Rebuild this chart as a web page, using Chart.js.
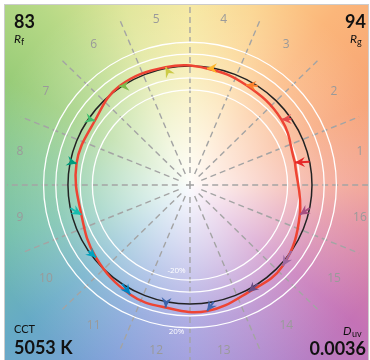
<!DOCTYPE html>
<html>
<head>
<meta charset="utf-8">
<script src="https://cdn.jsdelivr.net/npm/chart.js@4.4.1/dist/chart.umd.min.js"></script>
<style>
  body { margin: 0; background: #fff; }
  canvas { display: block; }
</style>
</head>
<body>
<canvas id="myChart" width="370" height="360"></canvas>
<script>
// hue bins 1..16, test vertex per bin (reference circle = radius 1)
const binLabels = ['1','2','3','4','5','6','7','8','9','10','11','12','13','14','15','16'];
const testX = [0.86, 0.75, 0.46, 0.14, -0.20, -0.58, -0.78, -0.93, -0.89, -0.77, -0.49, -0.20, 0.14, 0.48, 0.76, 0.90];
const testY = [0.19, 0.55, 0.84, 0.98, 0.99, 0.83, 0.54, 0.18, -0.25, -0.61, -0.92, -1.03, -1.06, -0.90, -0.68, -0.25];
const binColors = ['#e62828','#e74b4b','#fb812e','#ffb529','#cbca46','#7eb94c','#41c06d','#009c7c',
                   '#16bcb0','#00a4bf','#0085c3','#3b62aa','#4568ae','#6a4e85','#9d69a1','#a74f81'];
const ringRadii = [0.8, 0.9, 1.1, 1.2];
const ringLabels = ['-20%', '20%'];
const Rf = '83';
const Rg = '94';
const CCT = '5053 K';
const Duv = '0.0036';

function binAngle(i) { return (i + 0.5) * Math.PI / 8; }

// red test curve, closed
var curve = testX.map(function(x, i) { return {x: x, y: testY[i]}; });
curve.push(curve[0]);

var datasets = [];
binLabels.forEach(function(lbl, i) {
  var a = binAngle(i);
  datasets.push({
    label: 'bin ' + lbl,
    data: [{x: Math.cos(a), y: Math.sin(a)}, {x: testX[i], y: testY[i]}],
    showLine: true,
    borderColor: binColors[i],
    borderWidth: 2,
    pointRadius: 0,
    order: 0,
    isArrow: true
  });
});
datasets.push({
  label: 'test',
  data: curve,
  showLine: true,
  borderColor: '#ee4433',
  borderWidth: 2.5,
  tension: 0.4,
  pointRadius: 0,
  order: 1
});

function ellipse(ctx, xs, ys, r) {
  var cx = xs.getPixelForValue(0), cy = ys.getPixelForValue(0);
  var rx = xs.getPixelForValue(r) - cx, ry = cy - ys.getPixelForValue(r);
  ctx.beginPath();
  ctx.ellipse(cx, cy, rx, ry, 0, 0, Math.PI * 2);
}

const backdrop = {
  id: 'backdrop',
  beforeDatasetsDraw(chart) {
    var ctx = chart.ctx, area = chart.chartArea;
    var xs = chart.scales.x, ys = chart.scales.y;
    var cx = xs.getPixelForValue(0), cy = ys.getPixelForValue(0);
    ctx.save();
    ctx.beginPath();
    ctx.rect(area.left, area.top, area.right - area.left, area.bottom - area.top);
    ctx.clip();

    // hue background
    var stops = [[0,'#f2a090'],[25,'#f7a274'],[50,'#fbb67a'],[70,'#fbd48e'],[90,'#f5e79c'],
                 [110,'#dfe596'],[130,'#b7d986'],[150,'#98cc78'],[170,'#82c690'],[195,'#70bea8'],
                 [220,'#66aac6'],[245,'#7e9ed8'],[270,'#9c98dc'],[295,'#b086cc'],[320,'#c472b6'],
                 [345,'#e08aa0'],[360,'#f2a090']];
    var g = ctx.createConicGradient(0, cx, cy);
    stops.slice().reverse().forEach(function(s) {
      g.addColorStop((360 - s[0]) / 360, s[1]);
    });
    ctx.fillStyle = g;
    ctx.fillRect(area.left, area.top, area.right - area.left, area.bottom - area.top);
    var w = ctx.createRadialGradient(cx, cy, 0, cx, cy, 210);
    w.addColorStop(0, 'rgba(255,255,255,0.97)');
    w.addColorStop(0.3, 'rgba(255,255,255,0.62)');
    w.addColorStop(0.65, 'rgba(255,255,255,0.2)');
    w.addColorStop(1, 'rgba(255,255,255,0)');
    ctx.fillStyle = w;
    ctx.fillRect(area.left, area.top, area.right - area.left, area.bottom - area.top);

    // radial dashed lines at bin edges
    ctx.strokeStyle = '#a4a4a4';
    ctx.lineWidth = 1.4;
    ctx.setLineDash([6, 4]);
    for (var k = 0; k < 16; k++) {
      var a = k * Math.PI / 8;
      ctx.beginPath();
      ctx.moveTo(xs.getPixelForValue(0.1 * Math.cos(a)), ys.getPixelForValue(0.1 * Math.sin(a)));
      ctx.lineTo(xs.getPixelForValue(1.5 * Math.cos(a)), ys.getPixelForValue(1.5 * Math.sin(a)));
      ctx.stroke();
    }
    ctx.setLineDash([]);

    // white rings
    ctx.strokeStyle = '#ffffff';
    ctx.lineWidth = 1.3;
    ringRadii.forEach(function(r) { ellipse(ctx, xs, ys, r); ctx.stroke(); });

    // reference circle
    ctx.strokeStyle = '#222222';
    ctx.lineWidth = 1.5;
    ellipse(ctx, xs, ys, 1);
    ctx.stroke();

    // center cross
    ctx.strokeStyle = '#a0a0a0';
    ctx.lineWidth = 1.5;
    ctx.beginPath();
    ctx.moveTo(cx - 4, cy); ctx.lineTo(cx + 4, cy);
    ctx.moveTo(cx, cy - 4); ctx.lineTo(cx, cy + 4);
    ctx.stroke();

    // ring labels
    ctx.fillStyle = '#ffffff';
    ctx.font = '8px "Open Sans"';
    ctx.textAlign = 'center';
    ctx.textBaseline = 'middle';
    ctx.fillText(ringLabels[0], xs.getPixelForValue(-0.11), ys.getPixelForValue(-0.72));
    ctx.fillText(ringLabels[1], xs.getPixelForValue(-0.11), ys.getPixelForValue(-1.235));

    // bin numbers
    ctx.fillStyle = '#9a9a9a';
    ctx.font = '12px "Open Sans"';
    binLabels.forEach(function(lbl, i) {
      var a = binAngle(i);
      ctx.fillText(lbl, xs.getPixelForValue(1.42 * Math.cos(a)), ys.getPixelForValue(1.42 * Math.sin(a)));
    });
    ctx.restore();
  },
  afterDatasetsDraw(chart) {
    var ctx = chart.ctx, area = chart.chartArea;
    ctx.save();
    // arrow heads
    chart.data.datasets.forEach(function(ds, i) {
      if (!ds.isArrow) return;
      var pts = chart.getDatasetMeta(i).data;
      var x0 = pts[0].x, y0 = pts[0].y, x1 = pts[1].x, y1 = pts[1].y;
      var ang = Math.atan2(y1 - y0, x1 - x0);
      ctx.fillStyle = ds.borderColor;
      ctx.beginPath();
      ctx.moveTo(x1, y1);
      ctx.lineTo(x1 - 10 * Math.cos(ang) + 5 * Math.sin(ang), y1 - 10 * Math.sin(ang) - 5 * Math.cos(ang));
      ctx.lineTo(x1 - 6.5 * Math.cos(ang), y1 - 6.5 * Math.sin(ang));
      ctx.lineTo(x1 - 10 * Math.cos(ang) - 5 * Math.sin(ang), y1 - 10 * Math.sin(ang) + 5 * Math.cos(ang));
      ctx.closePath();
      ctx.fill();
    });

    // frame
    ctx.strokeStyle = '#cccccc';
    ctx.lineWidth = 1;
    ctx.strokeRect(area.left - 0.5, area.top - 0.5, area.right - area.left + 1, area.bottom - area.top + 1);

    // corner values
    ctx.fillStyle = '#111111';
    ctx.textBaseline = 'alphabetic';
    ctx.font = 'bold 18px Lato';
    ctx.textAlign = 'left';
    ctx.fillText(Rf, 14, 28);
    ctx.fillText(CCT, 14, 354);
    ctx.textAlign = 'right';
    ctx.fillText(Rg, 366, 28);
    ctx.fillText(Duv, 366, 355);

    ctx.font = '11px Lato';
    ctx.textAlign = 'left';
    ctx.fillText('CCT', 14, 333);

    ctx.font = 'italic 12px Lato';
    ctx.fillText('R', 14, 43);
    ctx.font = '9px Lato';
    ctx.fillText('f', 21, 45);

    ctx.font = 'italic 12px Lato';
    ctx.fillText('R', 350, 43);
    ctx.font = '9px Lato';
    ctx.fillText('g', 357, 45);

    ctx.font = 'italic 12px Lato';
    ctx.fillText('D', 343, 335);
    ctx.font = '9px Lato';
    ctx.fillText('uv', 352, 337);
    ctx.restore();
  }
};

var ctx = document.getElementById('myChart').getContext('2d');
var myChart = new Chart(ctx, {
  type: 'scatter',
  data: { datasets: datasets },
  options: {
    responsive: false,
    animation: false,
    layout: { padding: { left: 5, top: 5, right: 2, bottom: 0 } },
    plugins: { legend: { display: false }, tooltip: { enabled: false } },
    scales: {
      x: { display: false, min: -1.516, max: 1.459 },
      y: { display: false, min: -1.471, max: 1.513 }
    }
  },
  plugins: [backdrop]
});
</script>
</body>
</html>
